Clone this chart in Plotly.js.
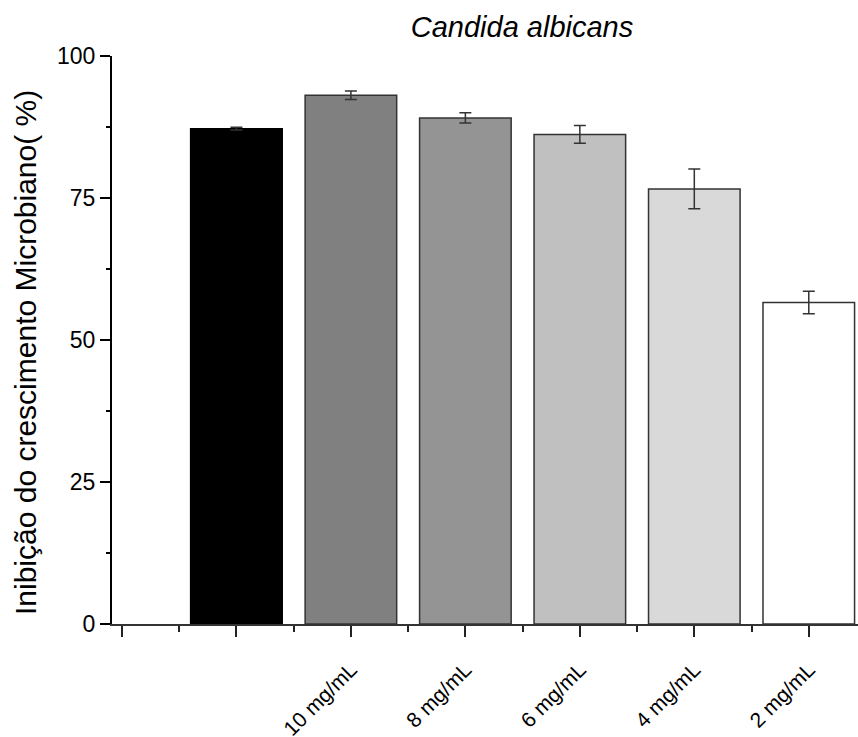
<!DOCTYPE html>
<html>
<head>
<meta charset="utf-8">
<script src="https://cdn.plot.ly/plotly-3.0.1.min.js"></script>
<style>html,body{margin:0;padding:0;background:#fff;}#chart{width:858px;height:737px;}</style>
</head>
<body>
<div id="chart"></div>
<script>
// Data
const tickLabels = ["", "", "10 mg/mL", "8 mg/mL", "6 mg/mL", "4 mg/mL", "2 mg/mL"];
const barPositions = [1, 2, 3, 4, 5, 6];
const values = [87.2, 93.1, 89.1, 86.2, 76.6, 56.6];
const errors = [0.25, 0.75, 0.9, 1.55, 3.5, 2.0];
const barColors = ["#000000", "#808080", "#949494", "#c0c0c0", "#d9d9d9", "#ffffff"];
const lineColors = ["#000000", "#333333", "#333333", "#333333", "#333333", "#333333"];
const tickPositions = [0, 1, 2, 3, 4, 5, 6];
const minorTickPositions = [0.5, 1.5, 2.5, 3.5, 4.5, 5.5];
const yTicks = [0, 25, 50, 75, 100];
const yMinorTicks = [12.5, 37.5, 62.5, 87.5];

const font = "Liberation Sans, Arial, sans-serif";
const plotWidth = 858 - 112;

const trace = {
  type: "bar",
  x: barPositions,
  y: values,
  width: 0.8,
  marker: { color: barColors, line: { color: lineColors, width: 1.5 } },
  error_y: { type: "data", array: errors, visible: true, color: "#333333", thickness: 1.5, width: 6 },
  hoverinfo: "none"
};

// minor y ticks drawn as short marks against the y scale
const minorShapes = yMinorTicks.map(v => ({
  type: "line", xref: "paper", yref: "y",
  x0: -6 / plotWidth, x1: 0, y0: v, y1: v,
  line: { color: "#000", width: 2 }
}));

const layout = {
  width: 858,
  height: 737,
  margin: { l: 112, r: 0, t: 56, b: 113 },
  paper_bgcolor: "#ffffff",
  plot_bgcolor: "#ffffff",
  showlegend: false,
  font: { family: font, color: "#000" },
  title: {
    text: "<i>Candida albicans</i>",
    font: { family: font, size: 29, color: "#000" },
    xref: "container", x: 522 / 858, xanchor: "center",
    yref: "container", y: 1 - 27 / 737, yanchor: "middle"
  },
  xaxis: {
    type: "linear",
    range: [-0.087, 6.43],
    tickmode: "array",
    tickvals: tickPositions,
    ticktext: tickLabels,
    tickangle: -45,
    ticks: "outside",
    ticklen: 11,
    tickwidth: 2,
    tickcolor: "#222",
    ticklabelstandoff: 12,
    tickfont: { family: font, size: 21, color: "#000" },
    showline: true,
    linecolor: "#333",
    linewidth: 2,
    showgrid: false,
    zeroline: false,
    fixedrange: true,
    minor: { tickmode: "array", tickvals: minorTickPositions, ticks: "outside", ticklen: 6, tickwidth: 2, tickcolor: "#222", showgrid: false }
  },
  yaxis: {
    range: [0, 100],
    tickmode: "array",
    tickvals: yTicks,
    ticks: "outside",
    ticklen: 10,
    tickwidth: 2,
    tickcolor: "#000",
    tickfont: { family: font, size: 23, color: "#000" },
    showline: true,
    linecolor: "#000",
    linewidth: 2,
    showgrid: false,
    zeroline: false,
    fixedrange: true
  },
  shapes: minorShapes,
  annotations: [{
    text: "Inibição do crescimento Microbiano( %)",
    textangle: -90,
    xref: "paper", x: (25 - 112) / plotWidth, xanchor: "center",
    yref: "paper", y: (624 - 353) / 568, yanchor: "middle",
    showarrow: false,
    font: { family: font, size: 30, color: "#000" }
  }]
};

Plotly.newPlot("chart", [trace], layout, { displayModeBar: false, staticPlot: true });
</script>
</body>
</html>
